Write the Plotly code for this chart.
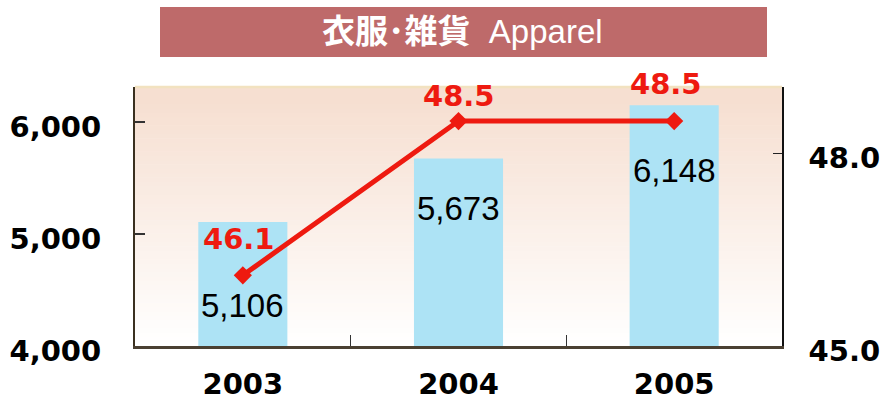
import plotly.graph_objects as go

# ---- data ----
years = [2003, 2004, 2005]
year_labels = ["2003", "2004", "2005"]
sales = [5106, 5673, 6148]          # left axis (bars)
ratio = [46.1, 48.5, 48.5]          # right axis (line)
left_ticks = [4000, 5000, 6000]
left_tick_text = ["4,000", "5,000", "6,000"]
right_ticks = [45.0, 48.0]
right_tick_text = ["45.0", "48.0"]
title_text = "<b>衣服･雑貨</b>\u00a0\u00a0Apparel"

# label offsets (pixels) for value labels
bar_label_shift = [-84, -50, -65]
line_label_shift = [36, 25, 37]
line_label_xshift = [-4, 0, -8]

W, H = 883, 400
L, R, T, B = 135, 101, 87, 54
pw, ph = W - L - R, H - T - B

def px2paper_x(px):
    return (px - L) / pw

def px2paper_y(py):
    return (H - B - py) / ph

fig = go.Figure()

fig.add_trace(go.Bar(
    x=years, y=sales, marker_color="#ADE3F5", marker_line_width=0,
    yaxis="y", hoverinfo="skip", showlegend=False,
))
fig.add_trace(go.Scatter(
    x=years, y=ratio, yaxis="y2", mode="lines+markers",
    line=dict(color="#EE1A10", width=5),
    marker=dict(symbol="diamond", size=14, color="#EE1A10"),
    showlegend=False, hoverinfo="skip",
))

shapes = []
# gradient background
n = 60
top = (246, 223, 209)
bot = (255, 255, 255)
for i in range(n):
    f0, f1 = i / n, (i + 1) / n
    t = (f0 + f1) / 2  # 0 bottom .. 1 top
    tt = min(1.0, t / 0.95)
    c = tuple(int(round(bot[k] + (top[k] - bot[k]) * tt)) for k in range(3))
    shapes.append(dict(type="rect", xref="paper", yref="paper", x0=0, x1=1,
                       y0=f0, y1=f1 + 0.002, fillcolor="rgb(%d,%d,%d)" % c,
                       line_width=0, layer="below"))
# top border (pale yellow)
shapes.append(dict(type="line", xref="paper", yref="paper", x0=0, x1=1,
                   y0=1, y1=1, line=dict(color="#F2E2C0", width=2.5)))
# title banner
shapes.append(dict(type="rect", xref="paper", yref="paper",
                   x0=px2paper_x(160), x1=px2paper_x(767),
                   y0=px2paper_y(57), y1=px2paper_y(7),
                   fillcolor="#BE6A6A", line_width=0))

annotations = [dict(
    xref="paper", yref="paper", x=px2paper_x(462), y=px2paper_y(32),
    text=title_text, showarrow=False, xanchor="center", yanchor="middle",
    font=dict(family="Liberation Sans, Noto Sans CJK JP", size=33, color="white"),
)]
for i, (yr, v) in enumerate(zip(years, sales)):
    annotations.append(dict(
        x=yr, y=v, xref="x", yref="y", text=f"{v:,}", showarrow=False,
        yshift=bar_label_shift[i], yanchor="middle",
        font=dict(family="Liberation Sans, Arial", size=33, color="black"),
    ))
for i, (yr, v) in enumerate(zip(years, ratio)):
    annotations.append(dict(
        x=yr, y=v, xref="x", yref="y2", text=f"{v:.1f}", showarrow=False,
        yshift=line_label_shift[i], xshift=line_label_xshift[i], yanchor="middle",
        font=dict(family="DejaVu Sans", size=29, color="#EE1A10", weight="bold"),
    ))

tickfont = dict(family="DejaVu Sans", size=29, color="black", weight="bold")

fig.update_layout(
    width=W, height=H,
    margin=dict(l=L, r=R, t=T, b=B, pad=0, autoexpand=False),
    paper_bgcolor="white", plot_bgcolor="white",
    bargap=0.587,
    shapes=shapes, annotations=annotations,
    xaxis=dict(
        type="linear", range=[years[0] - 0.5, years[-1] + 0.5],
        tickmode="array", tickvals=years, ticktext=year_labels,
        ticks="outside", ticklen=10, tickcolor="rgba(0,0,0,0)", tickangle=0,
        tickfont=tickfont, automargin=False,
        minor=dict(tickmode="array", tickvals=[2003.5, 2004.5], ticks="inside",
                   ticklen=11, tickcolor="#333", tickwidth=1, showgrid=False),
        showline=True, linecolor="#4A4032", linewidth=3,
        showgrid=False, zeroline=False,
    ),
    yaxis=dict(
        range=[4000, 6310], tickmode="array", tickvals=left_ticks, ticktext=left_tick_text,
        ticks="inside", ticklen=10, tickcolor="#333", tickwidth=1.5,
        tickfont=tickfont, showline=True, linecolor="#3A3020", linewidth=2,
        showgrid=False, zeroline=False, automargin=False,
        ticklabelstandoff=26, ticklabelshift=5,
    ),
    yaxis2=dict(
        range=[45, 49.03], tickmode="array", tickvals=right_ticks, ticktext=right_tick_text,
        overlaying="y", side="right", ticks="inside", ticklen=9,
        tickcolor="#222", tickwidth=1, tickfont=tickfont, automargin=False,
        showline=True, linecolor="#111", linewidth=1.5,
        showgrid=False, zeroline=False,
        ticklabelstandoff=19, ticklabelshift=5,
    ),
)

fig.write_html(
    "out.html",
    config={"displayModeBar": False},
    post_script="document.body.style.margin='0';document.body.style.overflow='hidden';",
)
